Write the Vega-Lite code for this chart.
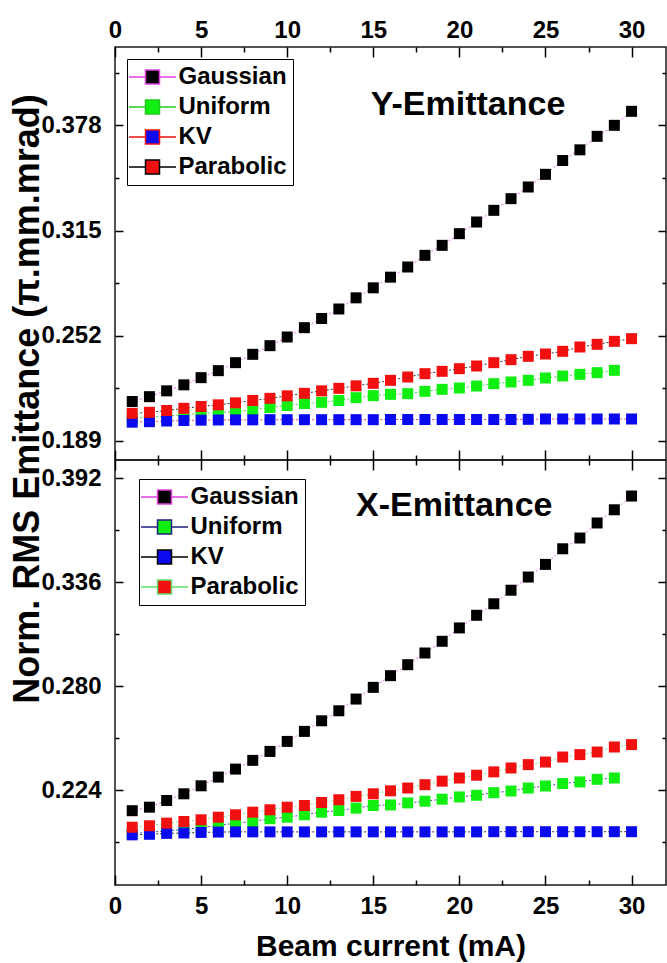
{
  "$schema": "https://vega.github.io/schema/vega-lite/v6.json",
  "background": "white",
  "padding": {"left": 8, "top": 12, "right": 0, "bottom": 0},
  "bounds": "flush",
  "spacing": 0,
  "config": {
    "font": "Liberation Sans",
    "view": {"stroke": "#1a1a1a", "strokeWidth": 1.5},
    "axis": {"labelFont": "Liberation Sans", "labelFontSize": 24, "labelFontWeight": "bold", "labelColor": "black", "tickColor": "black", "tickWidth": 1.5, "domain": false, "grid": false, "labelFlush": false, "labelOverlap": false, "titleFont": "Liberation Sans", "titleFontWeight": "bold", "titleColor": "black"}
  },
  "datasets": {
    "Y": [
      {"s":"Gaussian","c":1,"v":0.2124},{"s":"Gaussian","c":2,"v":0.2153},{"s":"Gaussian","c":3,"v":0.2188},{"s":"Gaussian","c":4,"v":0.2224},{"s":"Gaussian","c":5,"v":0.2267},{"s":"Gaussian","c":6,"v":0.2309},{"s":"Gaussian","c":7,"v":0.2357},{"s":"Gaussian","c":8,"v":0.2407},{"s":"Gaussian","c":9,"v":0.2459},{"s":"Gaussian","c":10,"v":0.2511},{"s":"Gaussian","c":11,"v":0.2567},{"s":"Gaussian","c":12,"v":0.2622},{"s":"Gaussian","c":13,"v":0.2679},{"s":"Gaussian","c":14,"v":0.2746},{"s":"Gaussian","c":15,"v":0.2806},{"s":"Gaussian","c":16,"v":0.2870},{"s":"Gaussian","c":17,"v":0.2931},{"s":"Gaussian","c":18,"v":0.3001},{"s":"Gaussian","c":19,"v":0.3061},{"s":"Gaussian","c":20,"v":0.3131},{"s":"Gaussian","c":21,"v":0.3201},{"s":"Gaussian","c":22,"v":0.3271},{"s":"Gaussian","c":23,"v":0.3341},{"s":"Gaussian","c":24,"v":0.3411},{"s":"Gaussian","c":25,"v":0.3487},{"s":"Gaussian","c":26,"v":0.3570},{"s":"Gaussian","c":27,"v":0.3634},{"s":"Gaussian","c":28,"v":0.3715},{"s":"Gaussian","c":29,"v":0.3781},{"s":"Gaussian","c":30,"v":0.3865},
      {"s":"Uniform","c":1,"v":0.2025},{"s":"Uniform","c":2,"v":0.2030},{"s":"Uniform","c":3,"v":0.2037},{"s":"Uniform","c":4,"v":0.2045},{"s":"Uniform","c":5,"v":0.2052},{"s":"Uniform","c":6,"v":0.2058},{"s":"Uniform","c":7,"v":0.2064},{"s":"Uniform","c":8,"v":0.2074},{"s":"Uniform","c":9,"v":0.2088},{"s":"Uniform","c":10,"v":0.2100},{"s":"Uniform","c":11,"v":0.2112},{"s":"Uniform","c":12,"v":0.2119},{"s":"Uniform","c":13,"v":0.2130},{"s":"Uniform","c":14,"v":0.2147},{"s":"Uniform","c":15,"v":0.2159},{"s":"Uniform","c":16,"v":0.2167},{"s":"Uniform","c":17,"v":0.2171},{"s":"Uniform","c":18,"v":0.2185},{"s":"Uniform","c":19,"v":0.2197},{"s":"Uniform","c":20,"v":0.2205},{"s":"Uniform","c":21,"v":0.2217},{"s":"Uniform","c":22,"v":0.2231},{"s":"Uniform","c":23,"v":0.2241},{"s":"Uniform","c":24,"v":0.2251},{"s":"Uniform","c":25,"v":0.2265},{"s":"Uniform","c":26,"v":0.2277},{"s":"Uniform","c":27,"v":0.2287},{"s":"Uniform","c":28,"v":0.2297},{"s":"Uniform","c":29,"v":0.2311},
      {"s":"KV","c":1,"v":0.2000},{"s":"KV","c":2,"v":0.2003},{"s":"KV","c":3,"v":0.2007},{"s":"KV","c":4,"v":0.2010},{"s":"KV","c":5,"v":0.2012},{"s":"KV","c":6,"v":0.2013},{"s":"KV","c":7,"v":0.2014},{"s":"KV","c":8,"v":0.2014},{"s":"KV","c":9,"v":0.2015},{"s":"KV","c":10,"v":0.2015},{"s":"KV","c":11,"v":0.2015},{"s":"KV","c":12,"v":0.2015},{"s":"KV","c":13,"v":0.2015},{"s":"KV","c":14,"v":0.2015},{"s":"KV","c":15,"v":0.2015},{"s":"KV","c":16,"v":0.2016},{"s":"KV","c":17,"v":0.2016},{"s":"KV","c":18,"v":0.2016},{"s":"KV","c":19,"v":0.2016},{"s":"KV","c":20,"v":0.2016},{"s":"KV","c":21,"v":0.2016},{"s":"KV","c":22,"v":0.2016},{"s":"KV","c":23,"v":0.2016},{"s":"KV","c":24,"v":0.2017},{"s":"KV","c":25,"v":0.2019},{"s":"KV","c":26,"v":0.2019},{"s":"KV","c":27,"v":0.2019},{"s":"KV","c":28,"v":0.2019},{"s":"KV","c":29,"v":0.2019},{"s":"KV","c":30,"v":0.2019},
      {"s":"Parabolic","c":1,"v":0.2053},{"s":"Parabolic","c":2,"v":0.2059},{"s":"Parabolic","c":3,"v":0.2070},{"s":"Parabolic","c":4,"v":0.2083},{"s":"Parabolic","c":5,"v":0.2094},{"s":"Parabolic","c":6,"v":0.2104},{"s":"Parabolic","c":7,"v":0.2116},{"s":"Parabolic","c":8,"v":0.2130},{"s":"Parabolic","c":9,"v":0.2143},{"s":"Parabolic","c":10,"v":0.2158},{"s":"Parabolic","c":11,"v":0.2173},{"s":"Parabolic","c":12,"v":0.2188},{"s":"Parabolic","c":13,"v":0.2203},{"s":"Parabolic","c":14,"v":0.2218},{"s":"Parabolic","c":15,"v":0.2233},{"s":"Parabolic","c":16,"v":0.2251},{"s":"Parabolic","c":17,"v":0.2271},{"s":"Parabolic","c":18,"v":0.2291},{"s":"Parabolic","c":19,"v":0.2305},{"s":"Parabolic","c":20,"v":0.2321},{"s":"Parabolic","c":21,"v":0.2337},{"s":"Parabolic","c":22,"v":0.2357},{"s":"Parabolic","c":23,"v":0.2375},{"s":"Parabolic","c":24,"v":0.2395},{"s":"Parabolic","c":25,"v":0.2409},{"s":"Parabolic","c":26,"v":0.2425},{"s":"Parabolic","c":27,"v":0.2451},{"s":"Parabolic","c":28,"v":0.2467},{"s":"Parabolic","c":29,"v":0.2485},{"s":"Parabolic","c":30,"v":0.2501}
    ],
    "X": [
      {"s":"Gaussian","c":1,"v":0.2131},{"s":"Gaussian","c":2,"v":0.2150},{"s":"Gaussian","c":3,"v":0.2186},{"s":"Gaussian","c":4,"v":0.2222},{"s":"Gaussian","c":5,"v":0.2265},{"s":"Gaussian","c":6,"v":0.2312},{"s":"Gaussian","c":7,"v":0.2355},{"s":"Gaussian","c":8,"v":0.2402},{"s":"Gaussian","c":9,"v":0.2450},{"s":"Gaussian","c":10,"v":0.2504},{"s":"Gaussian","c":11,"v":0.2558},{"s":"Gaussian","c":12,"v":0.2615},{"s":"Gaussian","c":13,"v":0.2669},{"s":"Gaussian","c":14,"v":0.2732},{"s":"Gaussian","c":15,"v":0.2795},{"s":"Gaussian","c":16,"v":0.2858},{"s":"Gaussian","c":17,"v":0.2917},{"s":"Gaussian","c":18,"v":0.2980},{"s":"Gaussian","c":19,"v":0.3043},{"s":"Gaussian","c":20,"v":0.3115},{"s":"Gaussian","c":21,"v":0.3183},{"s":"Gaussian","c":22,"v":0.3245},{"s":"Gaussian","c":23,"v":0.3318},{"s":"Gaussian","c":24,"v":0.3389},{"s":"Gaussian","c":25,"v":0.3457},{"s":"Gaussian","c":26,"v":0.3541},{"s":"Gaussian","c":27,"v":0.3599},{"s":"Gaussian","c":28,"v":0.3680},{"s":"Gaussian","c":29,"v":0.3751},{"s":"Gaussian","c":30,"v":0.3825},
      {"s":"Uniform","c":1,"v":0.2008},{"s":"Uniform","c":2,"v":0.2015},{"s":"Uniform","c":3,"v":0.2022},{"s":"Uniform","c":4,"v":0.2030},{"s":"Uniform","c":5,"v":0.2040},{"s":"Uniform","c":6,"v":0.2052},{"s":"Uniform","c":7,"v":0.2064},{"s":"Uniform","c":8,"v":0.2073},{"s":"Uniform","c":9,"v":0.2088},{"s":"Uniform","c":10,"v":0.2096},{"s":"Uniform","c":11,"v":0.2109},{"s":"Uniform","c":12,"v":0.2123},{"s":"Uniform","c":13,"v":0.2132},{"s":"Uniform","c":14,"v":0.2145},{"s":"Uniform","c":15,"v":0.2159},{"s":"Uniform","c":16,"v":0.2162},{"s":"Uniform","c":17,"v":0.2173},{"s":"Uniform","c":18,"v":0.2182},{"s":"Uniform","c":19,"v":0.2193},{"s":"Uniform","c":20,"v":0.2205},{"s":"Uniform","c":21,"v":0.2214},{"s":"Uniform","c":22,"v":0.2228},{"s":"Uniform","c":23,"v":0.2237},{"s":"Uniform","c":24,"v":0.2253},{"s":"Uniform","c":25,"v":0.2264},{"s":"Uniform","c":26,"v":0.2277},{"s":"Uniform","c":27,"v":0.2286},{"s":"Uniform","c":28,"v":0.2300},{"s":"Uniform","c":29,"v":0.2307},
      {"s":"KV","c":1,"v":0.2001},{"s":"KV","c":2,"v":0.2004},{"s":"KV","c":3,"v":0.2009},{"s":"KV","c":4,"v":0.2011},{"s":"KV","c":5,"v":0.2014},{"s":"KV","c":6,"v":0.2016},{"s":"KV","c":7,"v":0.2017},{"s":"KV","c":8,"v":0.2017},{"s":"KV","c":9,"v":0.2017},{"s":"KV","c":10,"v":0.2017},{"s":"KV","c":11,"v":0.2017},{"s":"KV","c":12,"v":0.2017},{"s":"KV","c":13,"v":0.2017},{"s":"KV","c":14,"v":0.2017},{"s":"KV","c":15,"v":0.2017},{"s":"KV","c":16,"v":0.2017},{"s":"KV","c":17,"v":0.2017},{"s":"KV","c":18,"v":0.2017},{"s":"KV","c":19,"v":0.2017},{"s":"KV","c":20,"v":0.2017},{"s":"KV","c":21,"v":0.2017},{"s":"KV","c":22,"v":0.2018},{"s":"KV","c":23,"v":0.2018},{"s":"KV","c":24,"v":0.2018},{"s":"KV","c":25,"v":0.2018},{"s":"KV","c":26,"v":0.2018},{"s":"KV","c":27,"v":0.2018},{"s":"KV","c":28,"v":0.2018},{"s":"KV","c":29,"v":0.2018},{"s":"KV","c":30,"v":0.2018},
      {"s":"Parabolic","c":1,"v":0.2042},{"s":"Parabolic","c":2,"v":0.2050},{"s":"Parabolic","c":3,"v":0.2064},{"s":"Parabolic","c":4,"v":0.2073},{"s":"Parabolic","c":5,"v":0.2082},{"s":"Parabolic","c":6,"v":0.2096},{"s":"Parabolic","c":7,"v":0.2109},{"s":"Parabolic","c":8,"v":0.2123},{"s":"Parabolic","c":9,"v":0.2136},{"s":"Parabolic","c":10,"v":0.2150},{"s":"Parabolic","c":11,"v":0.2159},{"s":"Parabolic","c":12,"v":0.2175},{"s":"Parabolic","c":13,"v":0.2190},{"s":"Parabolic","c":14,"v":0.2208},{"s":"Parabolic","c":15,"v":0.2222},{"s":"Parabolic","c":16,"v":0.2238},{"s":"Parabolic","c":17,"v":0.2253},{"s":"Parabolic","c":18,"v":0.2271},{"s":"Parabolic","c":19,"v":0.2290},{"s":"Parabolic","c":20,"v":0.2307},{"s":"Parabolic","c":21,"v":0.2322},{"s":"Parabolic","c":22,"v":0.2340},{"s":"Parabolic","c":23,"v":0.2361},{"s":"Parabolic","c":24,"v":0.2379},{"s":"Parabolic","c":25,"v":0.2393},{"s":"Parabolic","c":26,"v":0.2420},{"s":"Parabolic","c":27,"v":0.2433},{"s":"Parabolic","c":28,"v":0.2447},{"s":"Parabolic","c":29,"v":0.2474},{"s":"Parabolic","c":30,"v":0.2487}
    ]
  },
  "vconcat": [
    {
      "width": 551,
      "height": 413,
      "data": {"name": "Y"},
      "layer": [
        {
          "mark": {"type": "line", "strokeWidth": 1, "strokeDash": [2, 2], "opacity": 0.8},
          "encoding": {
            "x": {"field": "c", "type": "quantitative", "scale": {"domain": [0, 32], "nice": false, "zero": false},
              "axis": {"orient": "top", "values": [0, 2.5, 5, 7.5, 10, 12.5, 15, 17.5, 20, 22.5, 25, 27.5, 30], "format": "d", "labelExpr": "datum.value % 5 == 0 ? datum.label : ''", "tickSize": {"condition": {"test": "datum.value % 5 == 0", "value": -10}, "value": -5}, "labelPadding": 27, "labelBaseline": "middle", "title": null}},
            "y": {"field": "v", "type": "quantitative", "scale": {"domain": [0.1773, 0.4251], "nice": false, "zero": false},
              "axis": {"orient": "left", "values": [0.189, 0.2205, 0.252, 0.2835, 0.315, 0.3465, 0.378, 0.4095], "format": ".3f", "labelExpr": "round(datum.value*1000) % 63 == 0 ? datum.label : ''", "tickSize": {"condition": {"test": "round(datum.value*1000) % 63 == 0", "value": -8}, "value": -4}, "labelPadding": 22,
                "title": "Norm. RMS Emittance (π.mm.mrad)", "titleFontSize": 36, "titleAngle": 270, "titleAlign": "center", "titleBaseline": "middle", "titleX": -88, "titleY": 351.5}},
            "color": {"field": "s", "type": "nominal", "scale": {"domain": ["Parabolic", "KV", "Uniform", "Gaussian"], "range": ["#000000", "#ee1010", "#22cc22", "#e040e0"]}, "legend": null}
          }
        },
        {
          "mark": {"type": "square", "size": 121, "filled": true, "opacity": 1},
          "encoding": {
            "x": {"field": "c", "type": "quantitative", "scale": {"domain": [0, 32], "nice": false, "zero": false},
              "axis": {"orient": "bottom", "values": [0, 2.5, 5, 7.5, 10, 12.5, 15, 17.5, 20, 22.5, 25, 27.5, 30], "labels": false, "tickSize": {"condition": {"test": "datum.value % 5 == 0", "value": -10}, "value": -5}, "title": null}},
            "y": {"field": "v", "type": "quantitative", "scale": {"domain": [0.1773, 0.4251], "nice": false, "zero": false},
              "axis": {"orient": "right", "values": [0.189, 0.2205, 0.252, 0.2835, 0.315, 0.3465, 0.378, 0.4095], "labels": false, "tickSize": {"condition": {"test": "round(datum.value*1000) % 63 == 0", "value": -8}, "value": -4}, "title": null}},
            "fill": {"field": "s", "type": "nominal", "scale": {"domain": ["Gaussian", "Uniform", "KV", "Parabolic"], "range": ["#000000", "#11ee11", "#0a0aee", "#f01010"]},
              "legend": {"title": null, "orient": "none", "legendX": 12, "legendY": 12, "symbolType": "M-2.35,0H-0.7M0.7,0H2.35M-0.7,-0.7H0.7V0.7H-0.7Z", "symbolSize": 400, "symbolStrokeWidth": 1.5, "symbolOffset": 7.5, "labelOffset": 14, "labelFont": "Liberation Sans", "labelFontSize": 24, "labelFontWeight": "bold", "labelColor": "black", "rowPadding": 6, "padding": 6, "strokeColor": "black", "fillColor": "white"}},
            "stroke": {"field": "s", "type": "nominal", "scale": {"domain": ["Gaussian", "Uniform", "KV", "Parabolic"], "range": ["#e040e0", "#22cc22", "#ee1010", "#000000"]},
              "legend": {"title": null, "orient": "none", "legendX": 12, "legendY": 12, "symbolType": "M-2.35,0H-0.7M0.7,0H2.35M-0.7,-0.7H0.7V0.7H-0.7Z", "symbolSize": 400, "symbolStrokeWidth": 1.5, "symbolOffset": 7.5, "labelOffset": 14, "labelFont": "Liberation Sans", "labelFontSize": 24, "labelFontWeight": "bold", "labelColor": "black", "rowPadding": 6, "padding": 6, "strokeColor": "black", "fillColor": "white"}},
            "strokeWidth": {"value": 0}
          }
        },
        {
          "data": {"values": [{}]},
          "mark": {"type": "text", "text": "Y-Emittance", "font": "Liberation Sans", "fontSize": 34, "fontWeight": "bold", "align": "center", "baseline": "middle", "color": "black"},
          "encoding": {
            "x": {"datum": 20.5, "type": "quantitative", "scale": {"domain": [0, 32], "nice": false, "zero": false}, "axis": null},
            "y": {"datum": 0.3903, "type": "quantitative", "scale": {"domain": [0.1773, 0.4251], "nice": false, "zero": false}, "axis": null}
          }
        }
      ],
      "resolve": {"axis": {"x": "independent", "y": "independent"}}
    },
    {
      "width": 551,
      "height": 425,
      "data": {"name": "X"},
      "layer": [
        {
          "mark": {"type": "line", "strokeWidth": 1, "strokeDash": [2, 2], "opacity": 0.8},
          "encoding": {
            "x": {"field": "c", "type": "quantitative", "scale": {"domain": [0, 32], "nice": false, "zero": false},
              "axis": {"orient": "bottom", "values": [0, 2.5, 5, 7.5, 10, 12.5, 15, 17.5, 20, 22.5, 25, 27.5, 30], "format": "d", "labelExpr": "datum.value % 5 == 0 ? datum.label : ''", "tickSize": {"condition": {"test": "datum.value % 5 == 0", "value": -10}, "value": -5}, "labelPadding": 31, "labelBaseline": "middle",
                "title": "Beam current (mA)", "titleFontSize": 30, "titleBaseline": "middle", "titleY": 61}},
            "y": {"field": "v", "type": "quantitative", "scale": {"domain": [0.1731, 0.4019], "nice": false, "zero": false},
              "axis": {"orient": "left", "values": [0.196, 0.224, 0.252, 0.28, 0.308, 0.336, 0.364, 0.392], "format": ".3f", "labelExpr": "round(datum.value*1000) % 56 == 0 ? datum.label : ''", "tickSize": {"condition": {"test": "round(datum.value*1000) % 56 == 0", "value": -8}, "value": -4}, "labelPadding": 22, "title": null}},
            "color": {"field": "s", "type": "nominal", "scale": {"domain": ["Parabolic", "KV", "Uniform", "Gaussian"], "range": ["#66dd66", "#000000", "#202080", "#e040e0"]}, "legend": null}
          }
        },
        {
          "mark": {"type": "square", "size": 121, "filled": true, "opacity": 1},
          "encoding": {
            "x": {"field": "c", "type": "quantitative", "scale": {"domain": [0, 32], "nice": false, "zero": false},
              "axis": {"orient": "top", "values": [0, 2.5, 5, 7.5, 10, 12.5, 15, 17.5, 20, 22.5, 25, 27.5, 30], "labels": false, "tickSize": {"condition": {"test": "datum.value % 5 == 0", "value": -10}, "value": -5}, "title": null}},
            "y": {"field": "v", "type": "quantitative", "scale": {"domain": [0.1731, 0.4019], "nice": false, "zero": false},
              "axis": {"orient": "right", "values": [0.196, 0.224, 0.252, 0.28, 0.308, 0.336, 0.364, 0.392], "labels": false, "tickSize": {"condition": {"test": "round(datum.value*1000) % 56 == 0", "value": -8}, "value": -4}, "title": null}},
            "fill": {"field": "s", "type": "nominal", "scale": {"domain": ["Gaussian", "Uniform", "KV", "Parabolic"], "range": ["#000000", "#11ee11", "#0a0aee", "#f01010"]},
              "legend": {"title": null, "orient": "none", "legendX": 24, "legendY": 19, "symbolType": "M-2.35,0H-0.7M0.7,0H2.35M-0.7,-0.7H0.7V0.7H-0.7Z", "symbolSize": 400, "symbolStrokeWidth": 1.5, "symbolOffset": 7.5, "labelOffset": 14, "labelFont": "Liberation Sans", "labelFontSize": 24, "labelFontWeight": "bold", "labelColor": "black", "rowPadding": 6, "padding": 6, "strokeColor": "black", "fillColor": "white"}},
            "stroke": {"field": "s", "type": "nominal", "scale": {"domain": ["Gaussian", "Uniform", "KV", "Parabolic"], "range": ["#e040e0", "#202080", "#000000", "#66dd66"]},
              "legend": {"title": null, "orient": "none", "legendX": 24, "legendY": 19, "symbolType": "M-2.35,0H-0.7M0.7,0H2.35M-0.7,-0.7H0.7V0.7H-0.7Z", "symbolSize": 400, "symbolStrokeWidth": 1.5, "symbolOffset": 7.5, "labelOffset": 14, "labelFont": "Liberation Sans", "labelFontSize": 24, "labelFontWeight": "bold", "labelColor": "black", "rowPadding": 6, "padding": 6, "strokeColor": "black", "fillColor": "white"}},
            "strokeWidth": {"value": 0}
          }
        },
        {
          "data": {"values": [{}]},
          "mark": {"type": "text", "text": "X-Emittance", "font": "Liberation Sans", "fontSize": 34, "fontWeight": "bold", "align": "center", "baseline": "middle", "color": "black"},
          "encoding": {
            "x": {"datum": 19.7, "type": "quantitative", "scale": {"domain": [0, 32], "nice": false, "zero": false}, "axis": null},
            "y": {"datum": 0.3769, "type": "quantitative", "scale": {"domain": [0.1731, 0.4019], "nice": false, "zero": false}, "axis": null}
          }
        }
      ],
      "resolve": {"axis": {"x": "independent", "y": "independent"}}
    }
  ],
  "resolve": {"scale": {"x": "independent", "y": "independent", "color": "independent", "fill": "independent", "stroke": "independent"}, "legend": {"color": "independent", "fill": "independent", "stroke": "independent"}}
}
